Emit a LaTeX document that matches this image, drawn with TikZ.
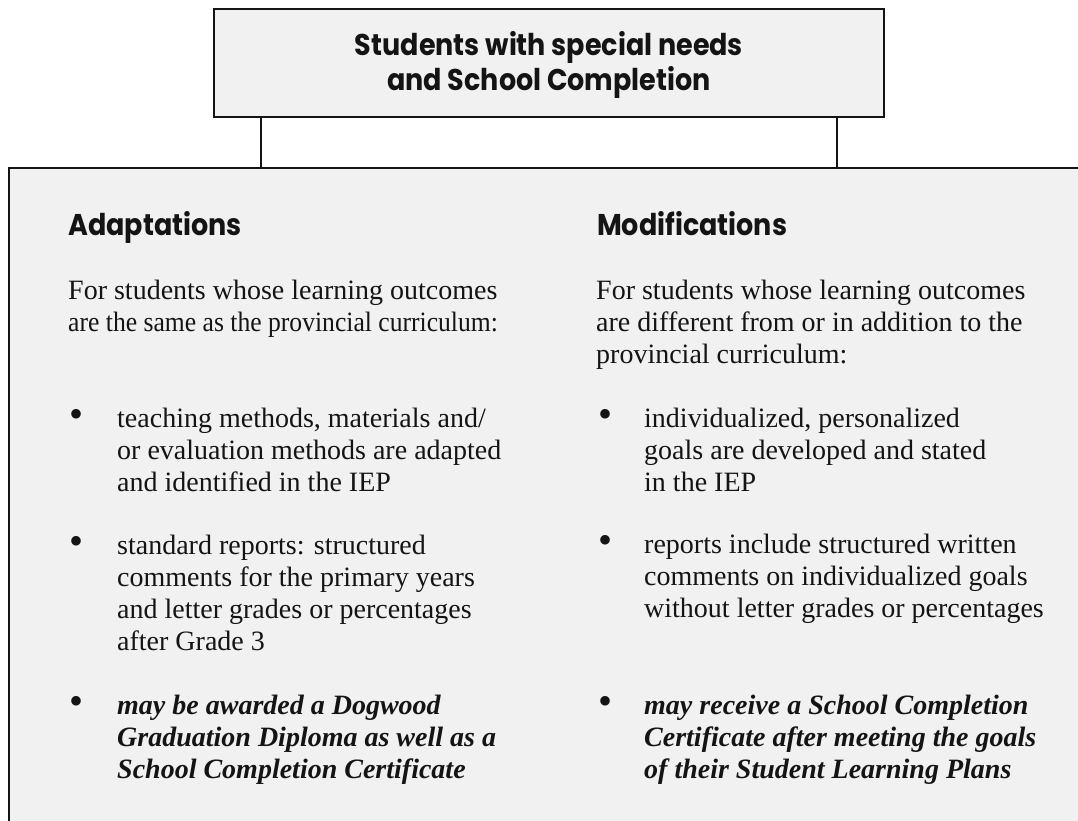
\documentclass[tikz,border=0pt]{standalone}
\usepackage{fontspec}
\setmainfont{Liberation Serif}
\newfontfamily\headfont[FakeStretch=0.9]{Poppins}
\definecolor{boxfill}{HTML}{F1F1F1}
\definecolor{ink}{HTML}{141414}
\newcommand{\blockpar}[1]{\parbox[t]{480pt}{\raggedright #1}}
\begin{document}
\begin{tikzpicture}[x=1pt,y=-1pt,
  boxstyle/.style={draw=ink, line width=2.2pt, fill=boxfill, inner sep=0pt, outer sep=0pt},
  link/.style={draw=ink, line width=2pt},
  titletxt/.style={anchor=base, inner sep=0pt, text=ink, font=\headfont\bfseries\fontsize{30}{35}\selectfont},
  headtxt/.style={anchor=base west, inner sep=0pt, text=ink, font=\headfont\bfseries\fontsize{30}{35}\selectfont},
  bodytxt/.style={anchor=base west, inner sep=0pt, text=ink, font=\fontsize{28}{32}\selectfont},
  dottxt/.style={anchor=base west, inner sep=0pt, text=ink, font=\fontsize{40}{32}\selectfont},
  boldtxt/.style={anchor=base west, inner sep=0pt, text=ink, font=\bfseries\itshape\fontsize{28}{32}\selectfont}]
\clip (0,0) rectangle (1078,821);
\fill[white] (0,0) rectangle (1078,821);
% main box (extends beyond the right and bottom edges)
\node[boxstyle, anchor=north west, minimum width=1100pt, minimum height=700pt] (main) at (9,168) {};
% top box
\node[boxstyle, minimum width=670pt, minimum height=108pt] (title) at (549,63) {};
\coordinate (lx) at (261,0);
\coordinate (rx) at (837,0);
\draw[link] (lx |- title.south) -- (lx |- main.north);
\draw[link] (rx |- title.south) -- (rx |- main.north);
% title text
\node[titletxt] (t1) at (549,56) {Students with special needs};
\node[titletxt] (t2) at (549,91) {and School Completion};
% headings
\node[headtxt] (hA) at (68,235) {Adaptations};
\node[headtxt] (hM) at (597,235) {Modifications};
% left column
\node[bodytxt] (iA) at (68,299) {\blockpar{For students whose learning outcomes\\\scalebox{0.915}[1]{are the same as the provincial curriculum:}}};
\node[dottxt] (dA1) at (69,427) {•};
\node[bodytxt] (bA1) at (117,427) {\blockpar{teaching methods, materials and/\\or evaluation methods are adapted\\and identified in the IEP}};
\node[dottxt] (dA2) at (69,554) {•};
\node[bodytxt] (bA2) at (117,554) {\blockpar{standard reports: structured\\comments for the primary years\\and letter grades or percentages\\after Grade 3}};
\node[dottxt] (dA3) at (69,714) {•};
\node[boldtxt] (bA3) at (117,714) {\blockpar{may be awarded a Dogwood\\Graduation Diploma as well as a\\School Completion Certificate}};
% right column
\node[bodytxt] (iM) at (596,299) {\blockpar{For students whose learning outcomes\\are different from or in addition to the\\provincial curriculum:}};
\node[dottxt] (dM1) at (598,427) {•};
\node[bodytxt] (bM1) at (644,427) {\blockpar{individualized, personalized\\goals are developed and stated\\in the IEP}};
\node[dottxt] (dM2) at (598,553) {•};
\node[bodytxt] (bM2) at (644,553) {\blockpar{reports include structured written\\comments on individualized goals\\without letter grades or percentages}};
\node[dottxt] (dM3) at (598,714) {•};
\node[boldtxt] (bM3) at (644,714) {\blockpar{may receive a School Completion\\Certificate after meeting the goals\\of their Student Learning Plans}};
\end{tikzpicture}
\end{document}
